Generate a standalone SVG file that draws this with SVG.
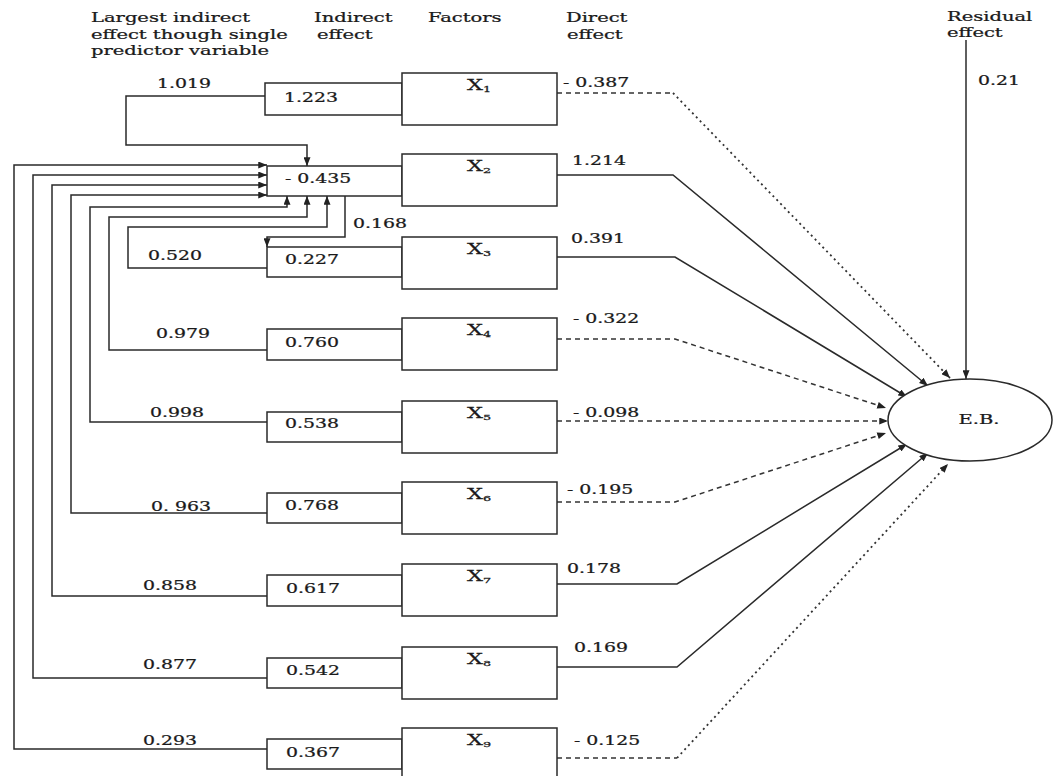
<svg xmlns="http://www.w3.org/2000/svg" width="1055" height="776" viewBox="0 0 1055 776">
<style>
.t{font-family:"DejaVu Serif","Liberation Serif",serif;font-size:13px;fill:#1a1a1a;stroke:#1a1a1a;stroke-width:0.25}
.xl{font-size:14px}
.box{fill:#fff;stroke:#2a2a2a;stroke-width:1.5}
.c{fill:none;stroke:#2a2a2a;stroke-width:1.5}
.dash{fill:none;stroke:#333;stroke-width:1.5;stroke-dasharray:5 4}
.dot{fill:none;stroke:#333;stroke-width:1.8;stroke-dasharray:2 3.5}
</style>
<defs>
<marker id="arr" viewBox="0 0 10 8" refX="10" refY="4" markerWidth="9" markerHeight="7" markerUnits="userSpaceOnUse" orient="auto"><path d="M0,0 L10,4 L0,8 z" fill="#222"/></marker>
</defs>
<rect width="1055" height="776" fill="#fff"/>

<g id="headers">
<text class="t" transform="translate(91 22) scale(1.5 1)">Largest indirect</text>
<text class="t" transform="translate(91 39) scale(1.5 1)">effect though single</text>
<text class="t" transform="translate(91 55) scale(1.5 1)">predictor variable</text>
<text class="t" transform="translate(314 22) scale(1.5 1)">Indirect</text>
<text class="t" transform="translate(317 39) scale(1.5 1)">effect</text>
<text class="t" transform="translate(428 22) scale(1.5 1)">Factors</text>
<text class="t" transform="translate(566 22) scale(1.5 1)">Direct</text>
<text class="t" transform="translate(567 39) scale(1.5 1)">effect</text>
<text class="t" transform="translate(947 21) scale(1.5 1)">Residual</text>
<text class="t" transform="translate(947 37) scale(1.5 1)">effect</text>
</g>

<g id="connectors">
<path class="c" d="M265,96 H126 V145 H307 V166" marker-end="url(#arr)"/>
<path class="c" d="M267,749 H14 V165 H267" marker-end="url(#arr)"/>
<path class="c" d="M267,678 H33 V175 H267" marker-end="url(#arr)"/>
<path class="c" d="M267,596 H52 V185 H267" marker-end="url(#arr)"/>
<path class="c" d="M267,513 H71 V195 H267" marker-end="url(#arr)"/>
<path class="c" d="M267,422 H90 V207 H287 V196" marker-end="url(#arr)"/>
<path class="c" d="M267,350 H109 V217 H307 V196" marker-end="url(#arr)"/>
<path class="c" d="M267,268 H128 V227 H327 V196" marker-end="url(#arr)"/>
<path class="c" d="M345,196 V237 H267 V247" marker-end="url(#arr)"/>
<path class="dash" d="M557,93 H673"/>
<path class="dot" d="M673,93 L950,378" marker-end="url(#arr)"/>
<path class="c" d="M557,175 H673 L928,386" marker-end="url(#arr)"/>
<path class="c" d="M557,257 H675 L907,397" marker-end="url(#arr)"/>
<path class="dash" d="M557,339 H675 L886,408" marker-end="url(#arr)"/>
<path class="dash" d="M557,421 H888" marker-end="url(#arr)"/>
<path class="dash" d="M557,502 H675 L886,433" marker-end="url(#arr)"/>
<path class="c" d="M557,584 H677 L907,444" marker-end="url(#arr)"/>
<path class="c" d="M557,667 H677 L928,453" marker-end="url(#arr)"/>
<path class="dash" d="M557,758 H677"/>
<path class="dot" d="M677,758 L948,464" marker-end="url(#arr)"/>
<path class="c" d="M966,40 V379" marker-end="url(#arr)"/>
</g>

<g id="x1">
<rect class="box" x="265" y="83" width="137" height="32"/>
<rect class="box" x="402" y="73" width="155" height="52"/>
<text class="t" transform="translate(157 88) scale(1.45 1)">1.019</text>
<text class="t" transform="translate(284 102) scale(1.45 1)">1.223</text>
<text class="t xl" x="479" y="90" text-anchor="middle" transform="translate(-287.4 0) scale(1.6 1)">X<tspan font-size="8" dy="2">1</tspan></text>
<text class="t" transform="translate(563 87) scale(1.45 1)">- 0.387</text>
</g>

<g id="x2">
<rect class="box" x="267" y="166" width="135" height="30"/>
<rect class="box" x="402" y="154" width="155" height="52"/>
<text class="t" transform="translate(285 183) scale(1.45 1)">- 0.435</text>
<text class="t xl" x="479" y="171" text-anchor="middle" transform="translate(-287.4 0) scale(1.6 1)">X<tspan font-size="8" dy="2">2</tspan></text>
<text class="t" transform="translate(572 165) scale(1.45 1)">1.214</text>
</g>

<g id="x3">
<rect class="box" x="267" y="247" width="135" height="30"/>
<rect class="box" x="402" y="237" width="155" height="52"/>
<text class="t" transform="translate(148 260) scale(1.45 1)">0.520</text>
<text class="t" transform="translate(353 228) scale(1.45 1)">0.168</text>
<text class="t" transform="translate(285 264) scale(1.45 1)">0.227</text>
<text class="t xl" x="479" y="254" text-anchor="middle" transform="translate(-287.4 0) scale(1.6 1)">X<tspan font-size="8" dy="2">3</tspan></text>
<text class="t" transform="translate(571 243) scale(1.45 1)">0.391</text>
</g>

<g id="x4">
<rect class="box" x="267" y="329" width="135" height="31"/>
<rect class="box" x="402" y="318" width="155" height="52"/>
<text class="t" transform="translate(156 338) scale(1.45 1)">0.979</text>
<text class="t" transform="translate(285 347) scale(1.45 1)">0.760</text>
<text class="t xl" x="479" y="335" text-anchor="middle" transform="translate(-287.4 0) scale(1.6 1)">X<tspan font-size="8" dy="2">4</tspan></text>
<text class="t" transform="translate(573 323) scale(1.45 1)">- 0.322</text>
</g>

<g id="x5">
<rect class="box" x="267" y="412" width="135" height="30"/>
<rect class="box" x="402" y="401" width="155" height="52"/>
<text class="t" transform="translate(150 417) scale(1.45 1)">0.998</text>
<text class="t" transform="translate(285 428) scale(1.45 1)">0.538</text>
<text class="t xl" x="479" y="418" text-anchor="middle" transform="translate(-287.4 0) scale(1.6 1)">X<tspan font-size="8" dy="2">5</tspan></text>
<text class="t" transform="translate(573 417) scale(1.45 1)">- 0.098</text>
</g>

<g id="x6">
<rect class="box" x="267" y="493" width="135" height="30"/>
<rect class="box" x="402" y="482" width="155" height="52"/>
<text class="t" transform="translate(151 511) scale(1.45 1)">0. 963</text>
<text class="t" transform="translate(285 510) scale(1.45 1)">0.768</text>
<text class="t xl" x="479" y="499" text-anchor="middle" transform="translate(-287.4 0) scale(1.6 1)">X<tspan font-size="8" dy="2">6</tspan></text>
<text class="t" transform="translate(567 494) scale(1.45 1)">- 0.195</text>
</g>

<g id="x7">
<rect class="box" x="267" y="575" width="135" height="31"/>
<rect class="box" x="402" y="564" width="155" height="52"/>
<text class="t" transform="translate(143 590) scale(1.45 1)">0.858</text>
<text class="t" transform="translate(286 593) scale(1.45 1)">0.617</text>
<text class="t xl" x="479" y="581" text-anchor="middle" transform="translate(-287.4 0) scale(1.6 1)">X<tspan font-size="8" dy="2">7</tspan></text>
<text class="t" transform="translate(567 573) scale(1.45 1)">0.178</text>
</g>

<g id="x8">
<rect class="box" x="267" y="658" width="135" height="30"/>
<rect class="box" x="402" y="647" width="155" height="52"/>
<text class="t" transform="translate(143 669) scale(1.45 1)">0.877</text>
<text class="t" transform="translate(286 675) scale(1.45 1)">0.542</text>
<text class="t xl" x="479" y="664" text-anchor="middle" transform="translate(-287.4 0) scale(1.6 1)">X<tspan font-size="8" dy="2">8</tspan></text>
<text class="t" transform="translate(574 652) scale(1.45 1)">0.169</text>
</g>

<g id="x9">
<rect class="box" x="267" y="739" width="135" height="30"/>
<rect class="box" x="402" y="728" width="155" height="52"/>
<text class="t" transform="translate(143 745) scale(1.45 1)">0.293</text>
<text class="t" transform="translate(286 757) scale(1.45 1)">0.367</text>
<text class="t xl" x="479" y="745" text-anchor="middle" transform="translate(-287.4 0) scale(1.6 1)">X<tspan font-size="8" dy="2">9</tspan></text>
<text class="t" transform="translate(574 745) scale(1.45 1)">- 0.125</text>
</g>

<g id="residual">
<text class="t" transform="translate(978 85) scale(1.45 1)">0.21</text>
</g>

<g id="eb">
<ellipse cx="970" cy="420" rx="82" ry="41" fill="#fff" stroke="#2a2a2a" stroke-width="1.5"/>
<text class="t" x="979" y="424" text-anchor="middle" transform="translate(-489.5 0) scale(1.5 1)">E.B.</text>
</g>
</svg>
